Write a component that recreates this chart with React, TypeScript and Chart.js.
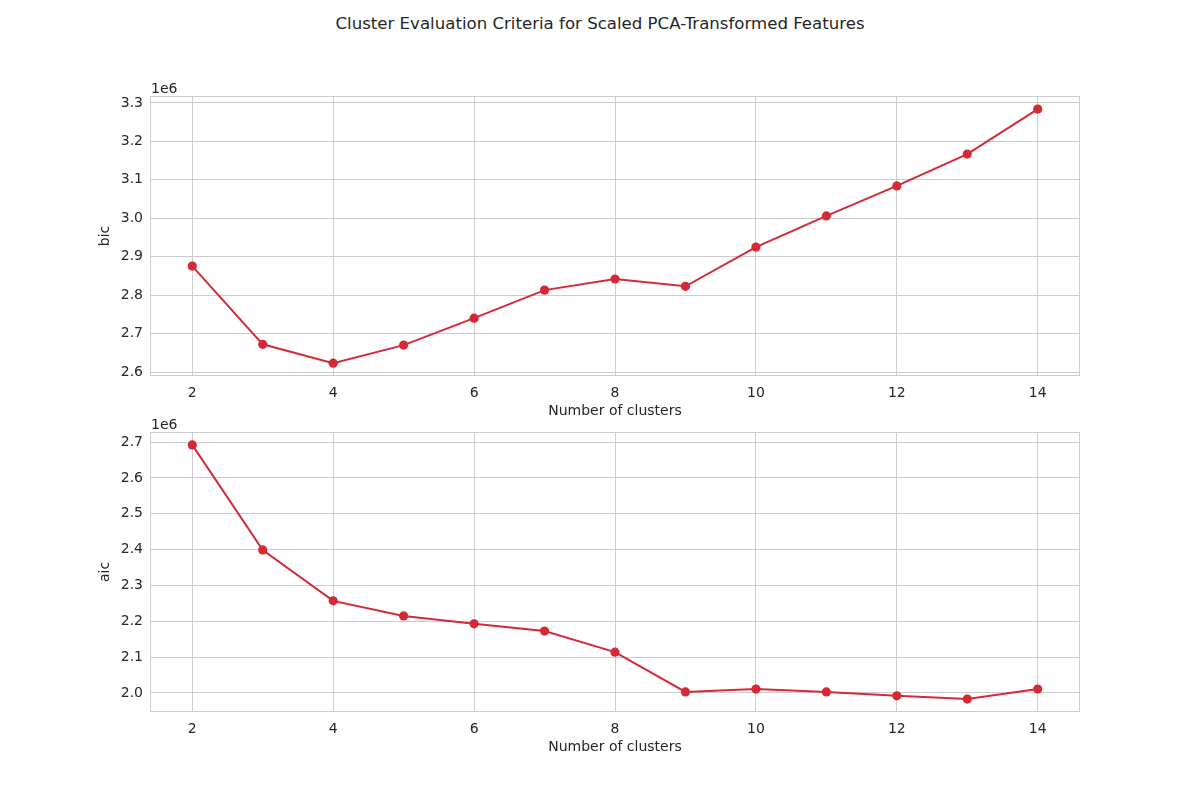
import React, { useEffect, useRef } from "react";
import { Chart, registerables } from "chart.js";

Chart.register(...registerables);

const CLUSTERS = [2, 3, 4, 5, 6, 7, 8, 9, 10, 11, 12, 13, 14];
const BIC = [2.8755, 2.672, 2.623, 2.670, 2.740, 2.813, 2.842, 2.823, 2.925, 3.006, 3.084, 3.167, 3.284];
const AIC = [2.692, 2.399, 2.257, 2.215, 2.193, 2.173, 2.114, 2.003, 2.011, 2.003, 1.992, 1.983, 2.011];
const X_TICKS = [2, 4, 6, 8, 10, 12, 14];
const BIC_TICKS = [2.6, 2.7, 2.8, 2.9, 3.0, 3.1, 3.2, 3.3];
const AIC_TICKS = [2.0, 2.1, 2.2, 2.3, 2.4, 2.5, 2.6, 2.7];
const TITLE = "Cluster Evaluation Criteria for Scaled PCA-Transformed Features";
const X_LABEL = "Number of clusters";
const OFFSET_TEXT = "1e6";

const FONT = "'DejaVu Sans', sans-serif";
const TEXT = "#262626";
const GRID = "#cccccc";
const RED = "#d42a38";

const framePlugin = {
  id: "frame",
  afterDraw(chart: any) {
    const { ctx, chartArea } = chart;
    ctx.save();
    ctx.strokeStyle = GRID;
    ctx.lineWidth = 1;
    ctx.strokeRect(chartArea.left + 0.5, chartArea.top + 0.5, chartArea.right - chartArea.left - 1, chartArea.bottom - chartArea.top - 1);
    ctx.fillStyle = TEXT;
    ctx.font = `14px ${FONT}`;
    ctx.textAlign = "left";
    ctx.textBaseline = "alphabetic";
    ctx.fillText(OFFSET_TEXT, chartArea.left + 1, chartArea.top - 3);
    ctx.restore();
  },
};

function makeConfig(values: number[], yTicks: number[], yLabel: string, yMin: number, yMax: number, padTop: number): any {
  return {
    type: "line",
    data: {
      datasets: [
        {
          data: CLUSTERS.map((c, i) => ({ x: c, y: values[i] })),
          borderColor: RED,
          backgroundColor: RED,
          borderWidth: 2,
          pointRadius: 4.6,
          pointHoverRadius: 4.6,
          pointBorderWidth: 0,
          tension: 0,
        },
      ],
    },
    options: {
      animation: false,
      responsive: false,
      maintainAspectRatio: false,
      layout: { padding: { left: 0, right: 120, top: padTop, bottom: 0 } },
      plugins: { legend: { display: false }, tooltip: { enabled: false }, title: { display: false } },
      scales: {
        x: {
          type: "linear",
          min: 1.4,
          max: 14.6,
          afterBuildTicks(scale: any) {
            scale.ticks = X_TICKS.map((v) => ({ value: v }));
          },
          afterFit(scale: any) {
            scale.height = 44;
          },
          grid: { color: GRID, drawTicks: false, lineWidth: 1 },
          border: { display: false },
          ticks: { color: TEXT, font: { family: FONT, size: 14 }, padding: 9, maxRotation: 0, autoSkip: false, callback: (v: any) => String(v) },
          title: { display: true, text: X_LABEL, color: TEXT, font: { family: FONT, size: 14 }, padding: { top: 0, bottom: 0.6 } },
        },
        y: {
          type: "linear",
          min: yMin,
          max: yMax,
          afterBuildTicks(scale: any) {
            scale.ticks = yTicks.map((v) => ({ value: v }));
          },
          afterFit(scale: any) {
            scale.width = 150;
          },
          grid: { color: GRID, drawTicks: false, lineWidth: 1 },
          border: { display: false },
          ticks: { color: TEXT, font: { family: FONT, size: 14 }, padding: 7, autoSkip: false, callback: (v: any) => Number(v).toFixed(1) },
          title: { display: true, text: yLabel, color: TEXT, font: { family: FONT, size: 14 }, padding: { top: 96.6, bottom: 0 } },
        },
      },
    },
    plugins: [framePlugin],
  };
}

export default function App() {
  const topRef = useRef<HTMLCanvasElement>(null);
  const botRef = useRef<HTMLCanvasElement>(null);

  useEffect(() => {
    const c1 = new Chart(topRef.current as HTMLCanvasElement, makeConfig(BIC, BIC_TICKS, "bic", 2.5896, 3.318, 96));
    const c2 = new Chart(botRef.current as HTMLCanvasElement, makeConfig(AIC, AIC_TICKS, "aic", 1.947, 2.728, 16));
    return () => {
      c1.destroy();
      c2.destroy();
    };
  }, []);

  return (
    <div style={{ position: "absolute", left: 0, top: 0, width: 1200, height: 800, background: "#ffffff", overflow: "hidden" }}>
      <div
        style={{
          position: "absolute",
          left: 0,
          top: 13,
          width: 1200,
          textAlign: "center",
          fontFamily: FONT,
          fontSize: 16.6,
          lineHeight: "22px",
          color: TEXT,
        }}
      >
        {TITLE}
      </div>
      <canvas ref={topRef} width={1200} height={420} style={{ position: "absolute", left: 0, top: 0, width: 1200, height: 420 }} />
      <canvas ref={botRef} width={1200} height={340} style={{ position: "absolute", left: 0, top: 416, width: 1200, height: 340 }} />
    </div>
  );
}
